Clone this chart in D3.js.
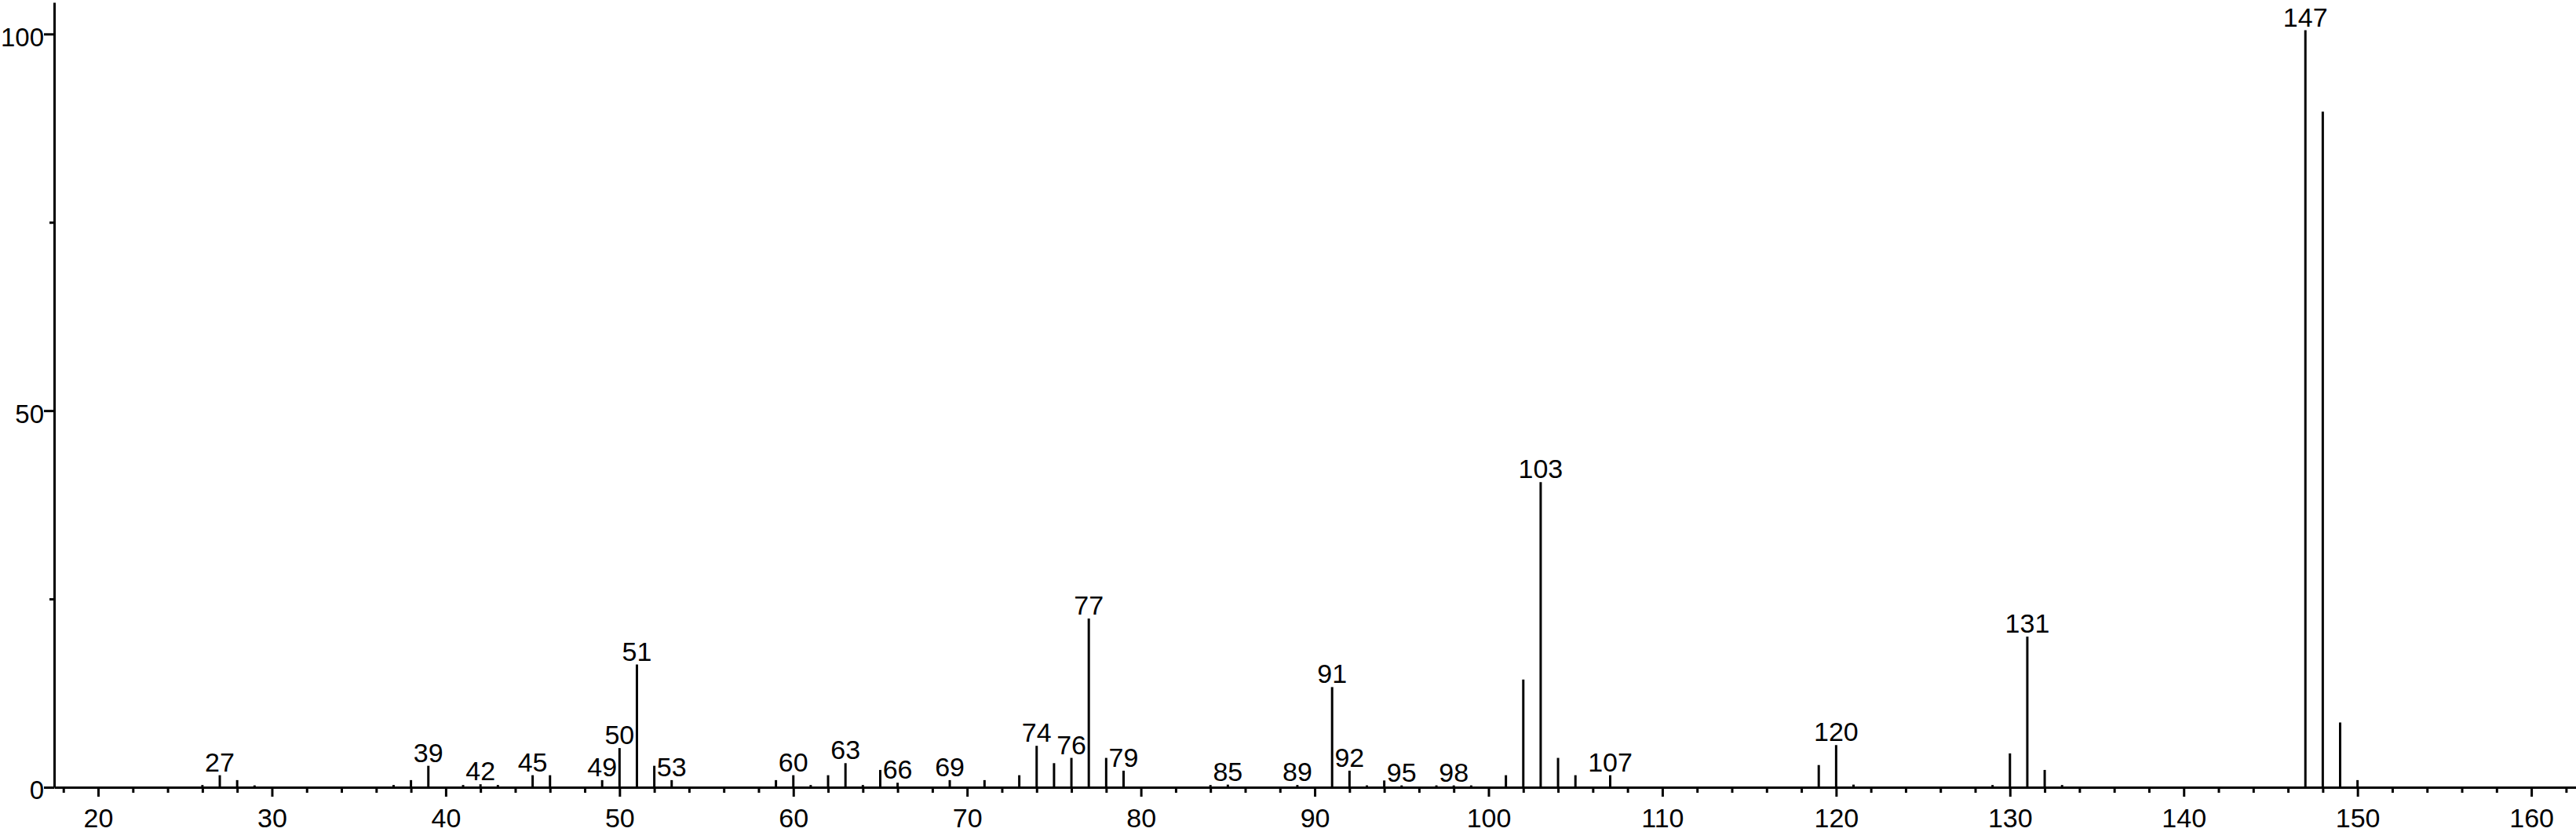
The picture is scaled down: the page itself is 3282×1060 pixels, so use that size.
<!DOCTYPE html>
<html>
<head>
<meta charset="utf-8">
<script src="https://cdn.jsdelivr.net/npm/d3@7"></script>
<style>
body { margin:0; background:#fff; }
svg { display:block; }
.axis path, .axis line { stroke:#000; stroke-width:3; }
.axis text { font-family:"Liberation Sans", Arial, sans-serif; font-size:34px; fill:#000; }
.yaxis text { font-size:33px; }
.peak { stroke:#000; stroke-width:3; }
.peakLabel { font-family:"Liberation Sans", Arial, sans-serif; font-size:34px; fill:#000; }
</style>
</head>
<body>
<svg></svg>
<script>
// mass spectrum: m/z and relative intensity (%)
var mzValues = [26,27,28,29,37,38,39,41,42,43,45,46,49,50,51,52,53,
    59,60,61,62,63,64,65,66,69,71,73,74,75,76,77,78,79,84,85,89,
    91,92,93,94,95,97,98,99,101,102,103,104,105,107,
    119,120,121,129,130,131,132,133,147,148,149,150];
var intensities = [0.3,1.6,0.95,0.25,0.3,0.95,2.85,0.3,0.4,0.3,1.6,1.6,0.95,5.2,16.3,2.85,0.95,
    0.95,1.6,0.3,1.6,3.2,0.3,2.3,0.6,0.95,0.95,1.6,5.5,3.2,3.9,22.4,3.9,2.2,0.3,0.35,0.3,
    13.3,2.2,0.25,0.9,0.25,0.25,0.25,0.25,1.6,14.3,40.5,3.9,1.6,1.6,
    2.95,5.6,0.35,0.3,4.5,20.0,2.3,0.3,100.5,89.7,8.6,0.95];
var labelledPeaks = [27,39,42,45,49,50,51,53,60,63,66,69,74,76,77,79,85,89,
    91,92,95,98,103,107,120,131,147];
var xMajorTicks = [20,30,40,50,60,70,80,90,100,110,120,130,140,150,160];
var xMinorTicks = [18,22,24,26,28,32,34,36,38,42,44,46,48,52,54,56,58,62,64,66,68,
    72,74,76,78,82,84,86,88,92,94,96,98,102,104,106,108,112,114,116,118,
    122,124,126,128,132,134,136,138,142,144,146,148,152,154,156,158,162];
var yMajorTicks = [0,50,100];
var yMinorTicks = [25,75];

var screen = {width:3282,height:1060}

var svg = d3.select("svg")
    .attr("width",screen.width)
    .attr("height",screen.height)

var xScale = d3.scaleLinear()
    .domain([17.47,162.57])
    .range([69,3282])
var yScale = d3.scaleLinear()
    .domain([0,104.2])
    .range([1003,3])

var peaks = mzValues.map(function(mz,i)
{
    return {mz:mz, intensity:intensities[i]};
})

// minor ticks first, under the main axes
svg.append("g")
    .attr("class","axis")
    .attr("transform","translate(0,"+yScale(0)+")")
    .call(d3.axisBottom(xScale).tickValues(xMinorTicks)
        .tickSize(7).tickSizeOuter(0).tickFormat(""))
    .select(".domain").remove()
svg.append("g")
    .attr("class","axis")
    .attr("transform","translate("+xScale.range()[0]+",0)")
    .call(d3.axisLeft(yScale).tickValues(yMinorTicks)
        .tickSize(6).tickSizeOuter(0).tickFormat(""))
    .select(".domain").remove()

svg.append("g")
    .attr("class","axis")
    .attr("transform","translate(0,"+yScale(0)+")")
    .call(d3.axisBottom(xScale).tickValues(xMajorTicks)
        .tickSize(12).tickSizeOuter(0).tickPadding(15))
svg.append("g")
    .attr("class","axis yaxis")
    .attr("transform","translate("+xScale.range()[0]+",0)")
    .call(d3.axisLeft(yScale).tickValues(yMajorTicks)
        .tickSize(13).tickSizeOuter(0).tickPadding(0))
    .selectAll("text")
    .attr("dy","0.45em")

svg.selectAll("line.peak")
    .data(peaks)
    .enter()
    .append("line")
    .attr("class","peak")
    .attr("x1",function(d){return xScale(d.mz)})
    .attr("x2",function(d){return xScale(d.mz)})
    .attr("y1",yScale(0))
    .attr("y2",function(d){return yScale(d.intensity)})

svg.selectAll("text.peakLabel")
    .data(peaks.filter(function(d){return labelledPeaks.indexOf(d.mz)>=0}))
    .enter()
    .append("text")
    .attr("class","peakLabel")
    .attr("text-anchor","middle")
    .attr("x",function(d){return xScale(d.mz)})
    .attr("y",function(d){return yScale(d.intensity)-5})
    .text(function(d){return d.mz})
</script>
</body>
</html>
